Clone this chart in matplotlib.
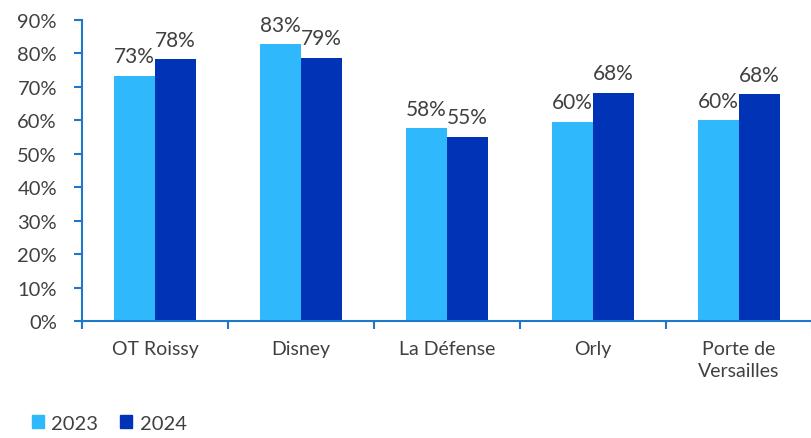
import matplotlib
matplotlib.use("Agg")
import matplotlib.pyplot as plt
import numpy as np
from matplotlib.ticker import FixedLocator, FuncFormatter
from matplotlib.patches import Patch

categories = ["OT Roissy", "Disney", "La Défense", "Orly", "Porte de\nVersailles"]
series_names = ["2023", "2024"]
values_2023 = [73.2, 82.7, 57.6, 59.6, 60.0]
values_2024 = [78.2, 78.6, 55.1, 68.2, 67.8]
yticks = [0, 10, 20, 30, 40, 50, 60, 70, 80, 90]

c23 = "#2FB9FC"
c24 = "#0033B5"
axis_col = "#1F77C9"
text_col = "#404040"

plt.rcParams['font.family'] = ['Lato', 'DejaVu Sans']

fig = plt.figure(figsize=(8.12, 4.39), dpi=100)
ax = fig.add_axes([82/812, 1-322/439, 730/812, (322-21)/439])

x = np.arange(len(categories))
w = 0.283
b1 = ax.bar(x - w/2, values_2023, w, color=c23, label=series_names[0])
b2 = ax.bar(x + w/2, values_2024, w, color=c24, label=series_names[1])

for bars, vals in ((b1, values_2023), (b2, values_2024)):
    for r, v in zip(bars, vals):
        ax.annotate(f"{round(v):d}%", (r.get_x() + r.get_width()/2, v),
                    xytext=(0, 7), textcoords="offset points",
                    ha="center", va="bottom", fontsize=15, color=text_col)

ax.set_xlim(-0.5, -0.5 + 730/148)
ax.set_ylim(0, 90)
ax.yaxis.set_major_locator(FixedLocator(yticks))
ax.yaxis.set_major_formatter(FuncFormatter(lambda v, p: f"{int(v)}%"))
ax.tick_params(axis='y', labelsize=14.5, colors=axis_col, labelcolor=text_col,
               length=6, width=1.5, pad=12, direction='out')

ax.set_xticks(x)
ax.set_xticklabels(categories, fontsize=14, color=text_col, linespacing=1.35)
ax.tick_params(axis='x', length=0, pad=14)
ax.set_xticks(np.arange(len(categories) + 1) - 0.5, minor=True)
ax.tick_params(axis='x', which='minor', length=6, width=1.5, colors=axis_col, direction='out')

for s in ("top", "right"):
    ax.spines[s].set_visible(False)
for s in ("left", "bottom"):
    ax.spines[s].set_color(axis_col)
    ax.spines[s].set_linewidth(1.5)

handles = [Patch(color=c23), Patch(color=c24)]
fig.legend(handles, series_names, loc="lower left", bbox_to_anchor=(14/812, -12/439),
           ncol=2, frameon=False, fontsize=14.5, handlelength=0.6, handleheight=0.6,
           handletextpad=0.35, columnspacing=1.1, labelcolor=text_col)

fig.savefig("out.png", dpi=100)
